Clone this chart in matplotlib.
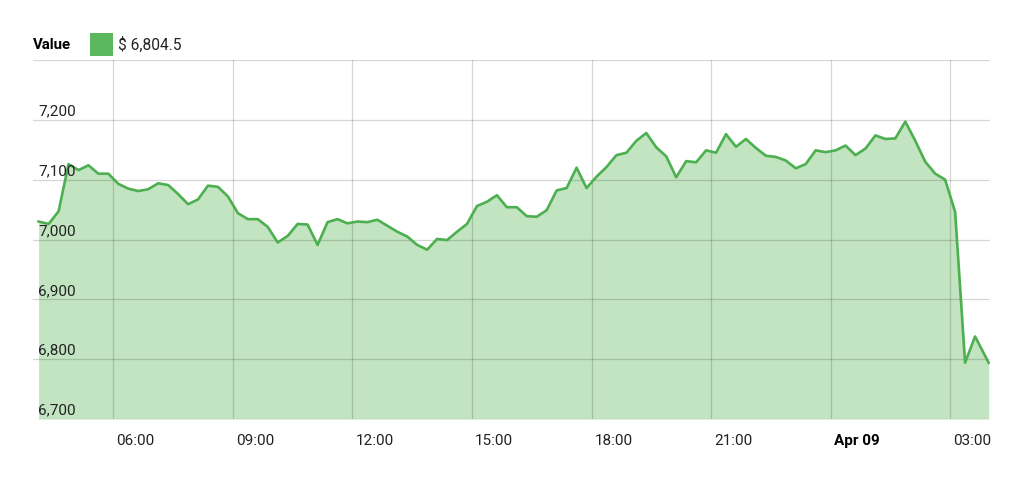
import numpy as np
import pandas as pd
import matplotlib
matplotlib.use('Agg')
import matplotlib.pyplot as plt
import matplotlib.dates as mdates
from matplotlib.patches import Rectangle
from matplotlib.transforms import ScaledTranslation, blended_transform_factory

plt.rcParams['font.family'] = ['Roboto', 'DejaVu Sans']

# price series, 15-minute steps plus the live point at the end
values = [7030, 7026, 7047, 7126, 7116, 7124, 7110, 7110, 7093, 7085,
          7081, 7084, 7094, 7091, 7076, 7059, 7067, 7090, 7088, 7072,
          7044, 7034, 7034, 7021, 6995, 7006, 7026, 7025, 6991, 7029,
          7034, 7027, 7030, 7029, 7033, 7023, 7013, 7005, 6991, 6983,
          7001, 6999, 7013, 7026, 7056, 7063, 7074, 7054, 7054, 7039,
          7038, 7049, 7082, 7086, 7120, 7086, 7105, 7121, 7141, 7145,
          7165, 7178, 7154, 7139, 7104, 7131, 7129, 7149, 7145, 7176,
          7155, 7168, 7153, 7140, 7138, 7132, 7119, 7126, 7149, 7146,
          7149, 7157, 7141, 7152, 7174, 7168, 7169, 7197, 7165, 7130,
          7110, 7100, 7046, 6794, 6838, 6794]
times = pd.date_range('2018-04-08 04:07:30', periods=len(values) - 1, freq='15min')
times = times.append(pd.DatetimeIndex(['2018-04-09 03:58']))

x_ticks = pd.to_datetime(['2018-04-08 06:00', '2018-04-08 09:00', '2018-04-08 12:00',
                          '2018-04-08 15:00', '2018-04-08 18:00', '2018-04-08 21:00',
                          '2018-04-09 00:00', '2018-04-09 03:00'])
x_labels = ['06:00', '09:00', '12:00', '15:00', '18:00', '21:00', 'Apr 09', '03:00']
y_ticks = [6700, 6800, 6900, 7000, 7100, 7200, 7300]
y_labels = ['6,700', '6,800', '6,900', '7,000', '7,100', '7,200', '']
legend_name = 'Value'
legend_value = '$ 6,804.5'

line_color = '#4caf50'
fill_color = '#c2e4c0'

fig = plt.figure(figsize=(10.24, 4.8), dpi=100)
ax = fig.add_axes([33 / 1024, 1 - 419 / 480, 957 / 1024, 359 / 480])

ax.fill_between(times, values, 6700, color=fill_color, lw=0, zorder=1)
ax.plot(times, values, color=line_color, lw=1.9, zorder=3, solid_joinstyle='round')

ax.set_xlim(pd.Timestamp('2018-04-08 03:59'), pd.Timestamp('2018-04-09 04:00'))
ax.set_ylim(6700, 7300)

ax.set_yticks(y_ticks)
ax.set_xticks(x_ticks)
ax.set_xticklabels(x_labels)
ax.grid(True, color='black', alpha=0.16, lw=0.9, zorder=2)
ax.set_axisbelow(False)
ax.tick_params(length=0, labelleft=False, pad=11, labelsize=11, colors='#222222')

shift = ScaledTranslation(3 / 100, 0, fig.dpi_scale_trans)
for lab in ax.get_xticklabels():
    lab.set_ha('left')
    lab.set_transform(lab.get_transform() + shift)
    if lab.get_text() == 'Apr 09':
        lab.set_fontweight('bold')
        lab.set_color('black')

trans = blended_transform_factory(ax.transAxes, ax.transData)
for v, lab in zip(y_ticks, y_labels):
    ax.annotate(lab, xy=(0, v), xycoords=trans, xytext=(5, 1.5), textcoords='offset pixels',
                ha='left', va='bottom', fontsize=11, color='#222222', zorder=4)

for s in ax.spines.values():
    s.set_visible(False)

# legend at the top
fig.text(33 / 1024, 1 - 45 / 480, legend_name, fontweight='bold', fontsize=10.8,
         va='center', ha='left', color='black')
fig.patches.append(Rectangle((90 / 1024, 1 - 56 / 480), 23 / 1024, 23 / 480,
                             transform=fig.transFigure, color='#5cb85c', lw=0))
fig.text(118 / 1024, 1 - 45 / 480, legend_value, fontsize=11.2,
         va='center', ha='left', color='#222222')

fig.savefig('out.png', dpi=100)
